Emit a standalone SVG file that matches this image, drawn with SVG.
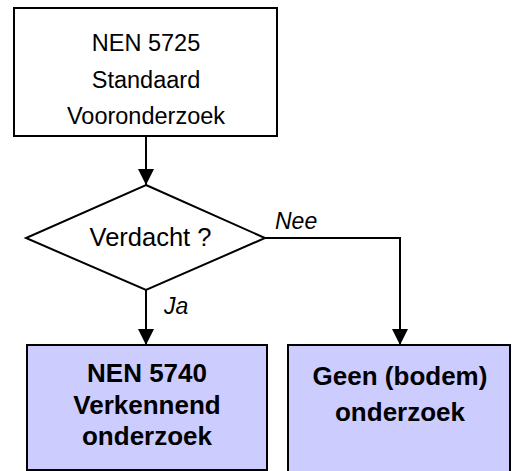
<svg xmlns="http://www.w3.org/2000/svg" width="512" height="471" viewBox="0 0 512 471">
<style>
.box{fill:#ffffff;stroke:#000000;stroke-width:2}
.fbox{fill:#ccccff;stroke:#000000;stroke-width:2}
.t{font-family:"Liberation Sans",Arial,sans-serif;fill:#000000;text-anchor:middle}
.b{font-weight:bold;font-size:26px}
.lbl{font-family:"Liberation Sans",Arial,sans-serif;font-style:italic;font-size:23px;fill:#000000}
.c{fill:none;stroke:#000000;stroke-width:2}
</style>
<defs>
<marker id="ah" markerUnits="userSpaceOnUse" markerWidth="16" markerHeight="17" refX="16" refY="8" orient="auto">
<path d="M0,0 L16,8 L0,16 Z" fill="#000000"/>
</marker>
</defs>
<rect width="512" height="471" fill="#ffffff"/>
<g id="connectors">
<line class="c" x1="146" y1="137" x2="146" y2="185" marker-end="url(#ah)"/>
<line class="c" x1="146" y1="290" x2="146" y2="345" marker-end="url(#ah)"/>
<polyline class="c" points="265,238 400,238 400,345" marker-end="url(#ah)"/>
<text class="lbl" x="164" y="314">Ja</text>
<text class="lbl" x="275" y="229">Nee</text>
</g>
<g id="start">
<rect class="box" x="14" y="8" width="263" height="128"/>
<text class="t" x="146" y="51" font-size="23.5">NEN 5725</text>
<text class="t" x="146" y="88" font-size="23.5">Standaard</text>
<text class="t" x="146" y="124" font-size="23.5">Vooronderzoek</text>
</g>
<g id="decision">
<polygon class="box" points="146,185 265,238 146,290 26,238"/>
<text class="t" x="150.5" y="246" font-size="25.5">Verdacht ?</text>
</g>
<g id="verkennend">
<rect class="fbox" x="27" y="345" width="240" height="125"/>
<text class="t b" x="147" y="382">NEN 5740</text>
<text class="t b" x="147" y="414">Verkennend</text>
<text class="t b" x="147" y="445">onderzoek</text>
</g>
<g id="geen">
<rect class="fbox" x="288" y="345" width="222" height="135"/>
<text class="t b" x="400" y="385">Geen (bodem)</text>
<text class="t b" x="400" y="421">onderzoek</text>
</g>
</svg>
